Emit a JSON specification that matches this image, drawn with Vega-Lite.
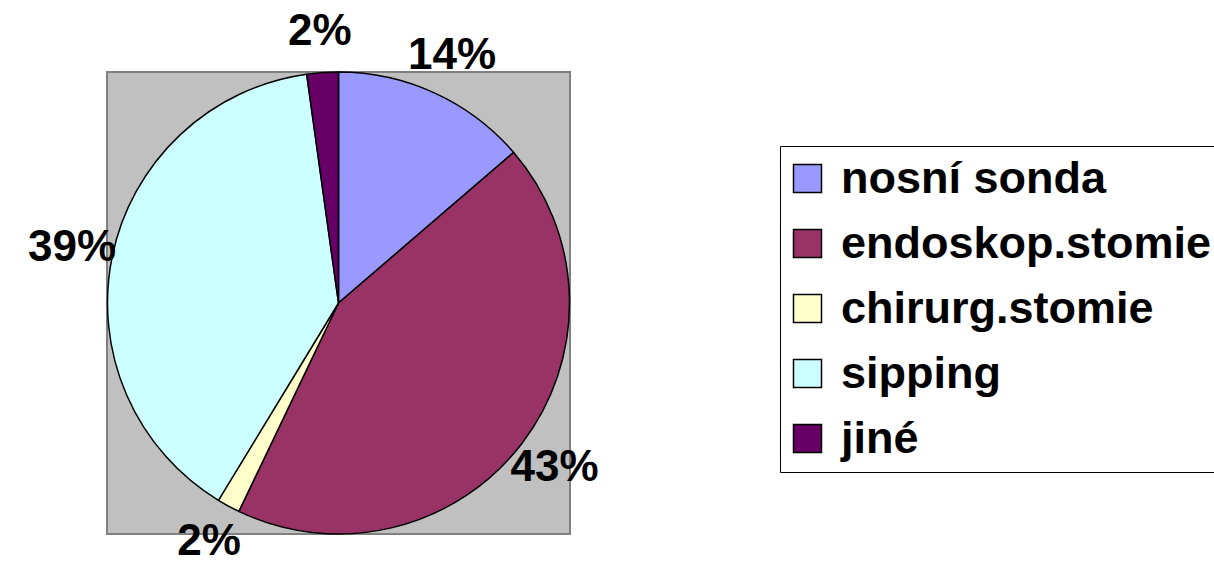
{
  "$schema": "https://vega.github.io/schema/vega-lite/v6.json",
  "autosize": {"type": "none"},
  "padding": {"left": 107, "top": 72, "right": 644, "bottom": 37},
  "width": 463,
  "height": 462,
  "background": "white",
  "view": {"fill": "#C0C0C0", "stroke": "#808080", "strokeWidth": 2},
  "config": {
    "view": {"fill": "#C0C0C0", "stroke": "#808080", "strokeWidth": 2},
    "font": "Liberation Sans"
  },
  "data": {
    "values": [
      {"poradi": 1, "kategorie": "nosní sonda", "podil": 0.137},
      {"poradi": 2, "kategorie": "endoskop.stomie", "podil": 0.434},
      {"poradi": 3, "kategorie": "chirurg.stomie", "podil": 0.016},
      {"poradi": 4, "kategorie": "sipping", "podil": 0.391},
      {"poradi": 5, "kategorie": "jiné", "podil": 0.022}
    ]
  },
  "encoding": {
    "theta": {"field": "podil", "type": "quantitative", "stack": true},
    "order": {"field": "poradi", "type": "quantitative", "sort": "ascending"},
    "color": {
      "field": "kategorie",
      "type": "nominal",
      "sort": null,
      "scale": {
        "domain": ["nosní sonda", "endoskop.stomie", "chirurg.stomie", "sipping", "jiné"],
        "range": ["#9999FF", "#993366", "#FFFFCC", "#CCFFFF", "#660066"]
      },
      "legend": {
        "title": null,
        "orient": "none",
        "legendX": 673,
        "legendY": 74,
        "symbolType": "square",
        "symbolSize": 784,
        "symbolStrokeColor": "black",
        "symbolStrokeWidth": 1.5,
        "symbolOffset": -5,
        "labelFont": "Liberation Sans",
        "labelFontWeight": "bold",
        "labelFontSize": 45,
        "labelColor": "black",
        "labelOffset": 11,
        "labelLimit": 0,
        "rowPadding": 19,
        "padding": 10,
        "strokeColor": "black",
        "fillColor": "white",
        "cornerRadius": 0
      }
    }
  },
  "layer": [
    {
      "mark": {"type": "arc", "outerRadius": 231, "stroke": "black", "strokeWidth": 1.5}
    },
    {
      "mark": {
        "type": "text",
        "radius": 272,
        "font": "Liberation Sans",
        "fontWeight": "bold",
        "fontSize": 44,
        "align": "center",
        "baseline": "middle",
        "color": "black"
      },
      "encoding": {
        "text": {"field": "podil", "type": "quantitative", "format": ".0%"},
        "color": {"value": "black"}
      }
    }
  ]
}
